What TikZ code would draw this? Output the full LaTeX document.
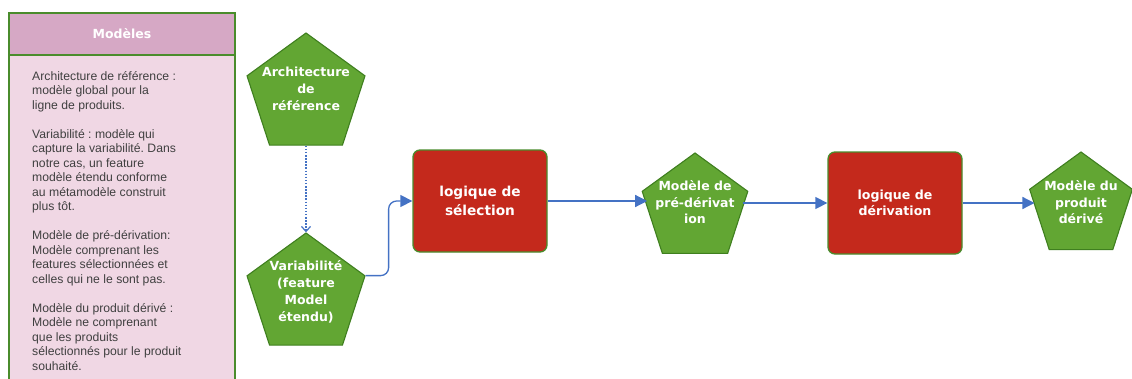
\documentclass[tikz,border=0pt]{standalone}
\usepackage{fontspec}
\setmainfont{Liberation Sans}
\newfontfamily\vfont{DejaVu Sans}
\usetikzlibrary{shapes.geometric,arrows.meta}
\definecolor{pgreen}{HTML}{62A633}
\definecolor{pgreenD}{HTML}{3F7F1F}
\definecolor{rbox}{HTML}{C4291C}
\definecolor{pinkH}{HTML}{D6A8C5}
\definecolor{pinkB}{HTML}{F0D7E4}
\definecolor{panelG}{HTML}{4A8C2C}
\definecolor{arr}{HTML}{4472C4}
\definecolor{txtG}{HTML}{404040}
\frenchspacing
\begin{document}
\begin{tikzpicture}[x=1pt,y=-1pt,
  pent/.style={regular polygon, regular polygon sides=5, draw=pgreenD, fill=pgreen, line width=1.1pt, inner sep=0pt},
  ptxt/.style={text=white, font=\vfont\bfseries\fontsize{12.5}{17}\selectfont, align=center, inner sep=0pt},
  logic/.style={rectangle, rounded corners=7pt, draw=panelG, fill=rbox, line width=1.3pt, minimum width=134pt, minimum height=102pt, text=white, align=center, inner sep=0pt},
  flow/.style={draw=arr, line width=1.3pt, -{Triangle[length=12pt,width=12pt]}},
  dotflow/.style={draw=arr, line width=1.2pt, dash pattern=on 1.5pt off 1.6pt, -{Straight Barb[length=5pt,width=9pt]}},
  panelbox/.style={rectangle, draw=panelG, line width=1.8pt, minimum width=226pt, inner sep=0pt}]
\useasboundingbox (0,0) rectangle (1132,378);
\clip (0,0) rectangle (1132,378);
% left panel
\node[panelbox, fill=pinkB, minimum height=377pt] (panel) at (122,201.5) {};
\node[panelbox, fill=pinkH, minimum height=42pt, text=white, font=\vfont\bfseries\fontsize{12.5}{15}\selectfont] (hdr) at (122,34) {Modèles};
\node[anchor=north west, inner sep=0pt, align=left, text=txtG, font=\fontsize{12.2}{14.5}\selectfont] (ptext) at (32,71)
{Architecture de référence :\\modèle global pour la\\ligne de produits.\\[14.5pt]
Variabilité : modèle qui\\capture la variabilité. Dans\\notre cas, un feature\\modèle étendu conforme\\au métamodèle construit\\plus tôt.\\[14.5pt]
Modèle de pré-dérivation:\\Modèle comprenant les\\features sélectionnées et\\celles qui ne le sont pas.\\[14.5pt]
Modèle du produit dérivé :\\Modèle ne comprenant\\que les produits\\sélectionnés pour le produit\\souhaité.};
% pentagons
\node[pent, minimum size=124pt] (arch) at (306,95) {};
\node[ptxt] (archT) at (306,89) {Architecture\\de\\référence};
\node[pent, minimum size=124pt] (var) at (306,295) {};
\node[ptxt] (varT) at (306,291.5) {Variabilité\\(feature\\Model\\étendu)};
\node[pent, minimum size=111pt] (pred) at (695,208.5) {};
\node[ptxt, font=\vfont\bfseries\fontsize{12.5}{16.5}\selectfont] (predT) at (695,202.5) {Modèle de\\pré-dérivat\\ion};
\node[pent, minimum size=108pt] (prod) at (1081,206) {};
\node[ptxt, font=\vfont\bfseries\fontsize{12.5}{16.5}\selectfont] (prodT) at (1081,202.5) {Modèle du\\produit\\dérivé};
% logic boxes
\node[logic, font=\vfont\bfseries\fontsize{13.7}{19}\selectfont] (sel) at (480,201) {logique de\\sélection};
\node[logic, font=\vfont\bfseries\fontsize{12.6}{16}\selectfont] (der) at (895,203) {logique de\\dérivation};
% connectors
\draw[dotflow] (arch.south) -- (var.north);
\draw[flow, rounded corners=8pt] (var.corner 5) -- ++(23,0) |- (sel.west);
\draw[flow] (sel.east) -- (pred.west |- sel.east);
\draw[flow] (pred.east |- der.west) -- (der.west);
\draw[flow] (der.east) -- (prod.west |- der.east);
\end{tikzpicture}
\end{document}
